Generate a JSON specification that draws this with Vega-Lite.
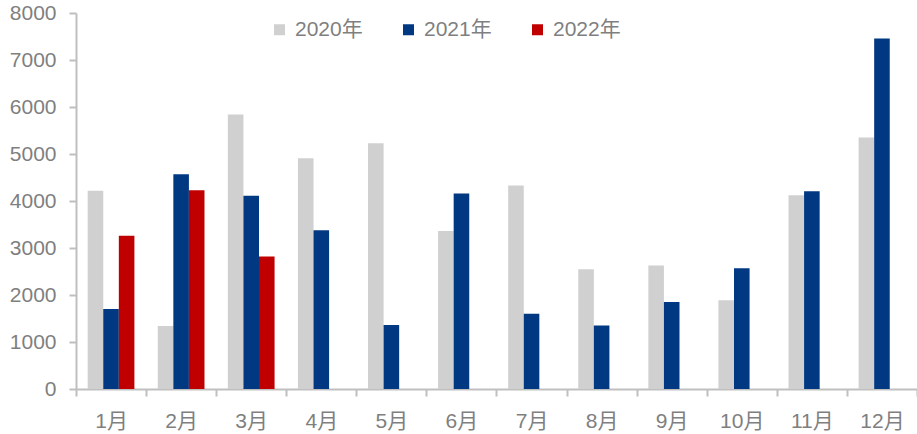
{
  "$schema": "https://vega.github.io/schema/vega-lite/v6.json",
  "width": 841,
  "height": 376,
  "autosize": {"type": "none"},
  "padding": {"left": 76, "top": 13, "right": 0, "bottom": 45},
  "background": "white",
  "config": {
    "view": {"stroke": null},
    "font": "Liberation Sans, Noto Sans CJK SC"
  },
  "data": {
    "values": [
      {"month": "1月", "year": "2020年", "value": 4220},
      {"month": "1月", "year": "2021年", "value": 1700},
      {"month": "1月", "year": "2022年", "value": 3260},
      {"month": "2月", "year": "2020年", "value": 1340},
      {"month": "2月", "year": "2021年", "value": 4570},
      {"month": "2月", "year": "2022年", "value": 4230},
      {"month": "3月", "year": "2020年", "value": 5840},
      {"month": "3月", "year": "2021年", "value": 4110},
      {"month": "3月", "year": "2022年", "value": 2820},
      {"month": "4月", "year": "2020年", "value": 4910},
      {"month": "4月", "year": "2021年", "value": 3380},
      {"month": "5月", "year": "2020年", "value": 5230},
      {"month": "5月", "year": "2021年", "value": 1360},
      {"month": "6月", "year": "2020年", "value": 3360},
      {"month": "6月", "year": "2021年", "value": 4160},
      {"month": "7月", "year": "2020年", "value": 4330},
      {"month": "7月", "year": "2021年", "value": 1600},
      {"month": "8月", "year": "2020年", "value": 2550},
      {"month": "8月", "year": "2021年", "value": 1350},
      {"month": "9月", "year": "2020年", "value": 2630},
      {"month": "9月", "year": "2021年", "value": 1850},
      {"month": "10月", "year": "2020年", "value": 1890},
      {"month": "10月", "year": "2021年", "value": 2570},
      {"month": "11月", "year": "2020年", "value": 4120},
      {"month": "11月", "year": "2021年", "value": 4210},
      {"month": "12月", "year": "2020年", "value": 5350},
      {"month": "12月", "year": "2021年", "value": 7460}
    ]
  },
  "mark": {"type": "bar"},
  "encoding": {
    "x": {
      "field": "month",
      "type": "nominal",
      "sort": ["1月","2月","3月","4月","5月","6月","7月","8月","9月","10月","11月","12月"],
      "scale": {"paddingInner": 0, "paddingOuter": 0},
      "axis": {
        "title": null,
        "labelAngle": 0,
        "labelFontSize": 21,
        "labelColor": "#7f7f7f",
        "labelPadding": 14,
        "domainColor": "#bfbfbf",
        "domainWidth": 2,
        "tickColor": "#bfbfbf",
        "tickWidth": 2,
        "tickSize": 7,
        "tickBand": "extent",
        "grid": false
      }
    },
    "xOffset": {
      "field": "year",
      "type": "nominal",
      "scale": {"domain": ["2020年","2021年","2022年"], "paddingInner": 0, "paddingOuter": 0.75}
    },
    "y": {
      "field": "value",
      "type": "quantitative",
      "scale": {"domain": [0, 8000], "nice": false},
      "axis": {
        "title": null,
        "values": [0,1000,2000,3000,4000,5000,6000,7000,8000],
        "format": "d",
        "labelFontSize": 21,
        "labelColor": "#7f7f7f",
        "labelPadding": 13,
        "domainColor": "#bfbfbf",
        "domainWidth": 2,
        "tickColor": "#bfbfbf",
        "tickWidth": 2,
        "tickSize": 7,
        "grid": false
      }
    },
    "color": {
      "field": "year",
      "type": "nominal",
      "scale": {"domain": ["2020年","2021年","2022年"], "range": ["#d0d0d0","#003882","#c00000"]},
      "legend": {
        "title": null,
        "orient": "none",
        "legendX": 193,
        "legendY": 6,
        "direction": "horizontal",
        "symbolType": "square",
        "symbolSize": 121,
        "symbolStrokeWidth": 0,
        "labelFontSize": 21,
        "labelColor": "#7f7f7f",
        "labelOffset": 5,
        "columnPadding": 35,
        "padding": 0
      }
    }
  }
}
